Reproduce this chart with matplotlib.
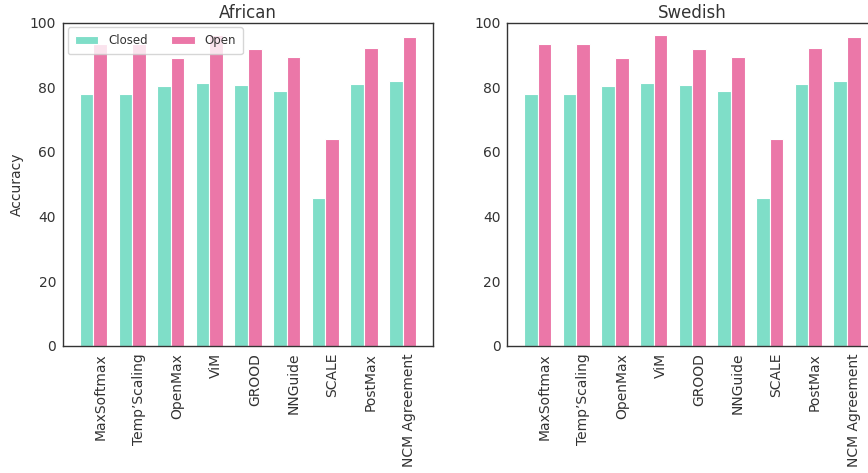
import numpy as np
import matplotlib.pyplot as plt

methods = ["MaxSoftmax", "Temp\u2019Scaling", "OpenMax", "ViM", "GROOD",
           "NNGuide", "SCALE", "PostMax", "NCM Agreement"]

african_closed = [77.9, 77.9, 80.5, 81.3, 80.6, 78.9, 45.6, 81.1, 81.9]
african_open = [93.4, 93.4, 89.0, 96.0, 91.7, 89.4, 64.0, 92.1, 95.4]

swedish_closed = [77.9, 77.9, 80.5, 81.3, 80.6, 78.9, 45.6, 81.1, 81.9]
swedish_open = [93.4, 93.4, 89.0, 96.0, 91.7, 89.4, 64.0, 92.1, 95.4]

c_closed = "#7fdec8"
c_open = "#eb77a8"
txt = "#333333"

fig = plt.figure(figsize=(8.68, 4.73), dpi=100)
ax1 = fig.add_axes([0.0726, 0.2685, 0.4263, 0.6839])
ax2 = fig.add_axes([0.5845, 0.2685, 0.4263, 0.6839])

x = np.arange(len(methods))
w = 0.35

for ax, title, closed, opn in [(ax1, "African", african_closed, african_open),
                               (ax2, "Swedish", swedish_closed, swedish_open)]:
    ax.bar(x - w / 2, closed, w, color=c_closed, edgecolor="white", linewidth=0.8, label="Closed")
    ax.bar(x + w / 2, opn, w, color=c_open, edgecolor="white", linewidth=0.8, label="Open")
    ax.set_ylim(0, 100)
    ax.set_yticks([0, 20, 40, 60, 80, 100])
    # labels sit under the "Open" bar in the original
    ax.set_xticks(x + w / 2)
    ax.set_xticklabels(methods, rotation=90)
    ax.tick_params(length=0, labelsize=10, colors=txt, pad=5)
    ax.set_title(title, fontsize=12, color=txt, pad=3)
    for s in ax.spines.values():
        s.set_color("#333333")
        s.set_linewidth(1.0)

ax1.set_ylabel("Accuracy", fontsize=10, color=txt)
leg = ax1.legend(loc="upper left", ncol=2, fontsize=8.5, frameon=True,
                 borderpad=0.6, borderaxespad=0.4, columnspacing=2.0)
for t in leg.get_texts():
    t.set_color(txt)

fig.savefig("out.png", dpi=100)
